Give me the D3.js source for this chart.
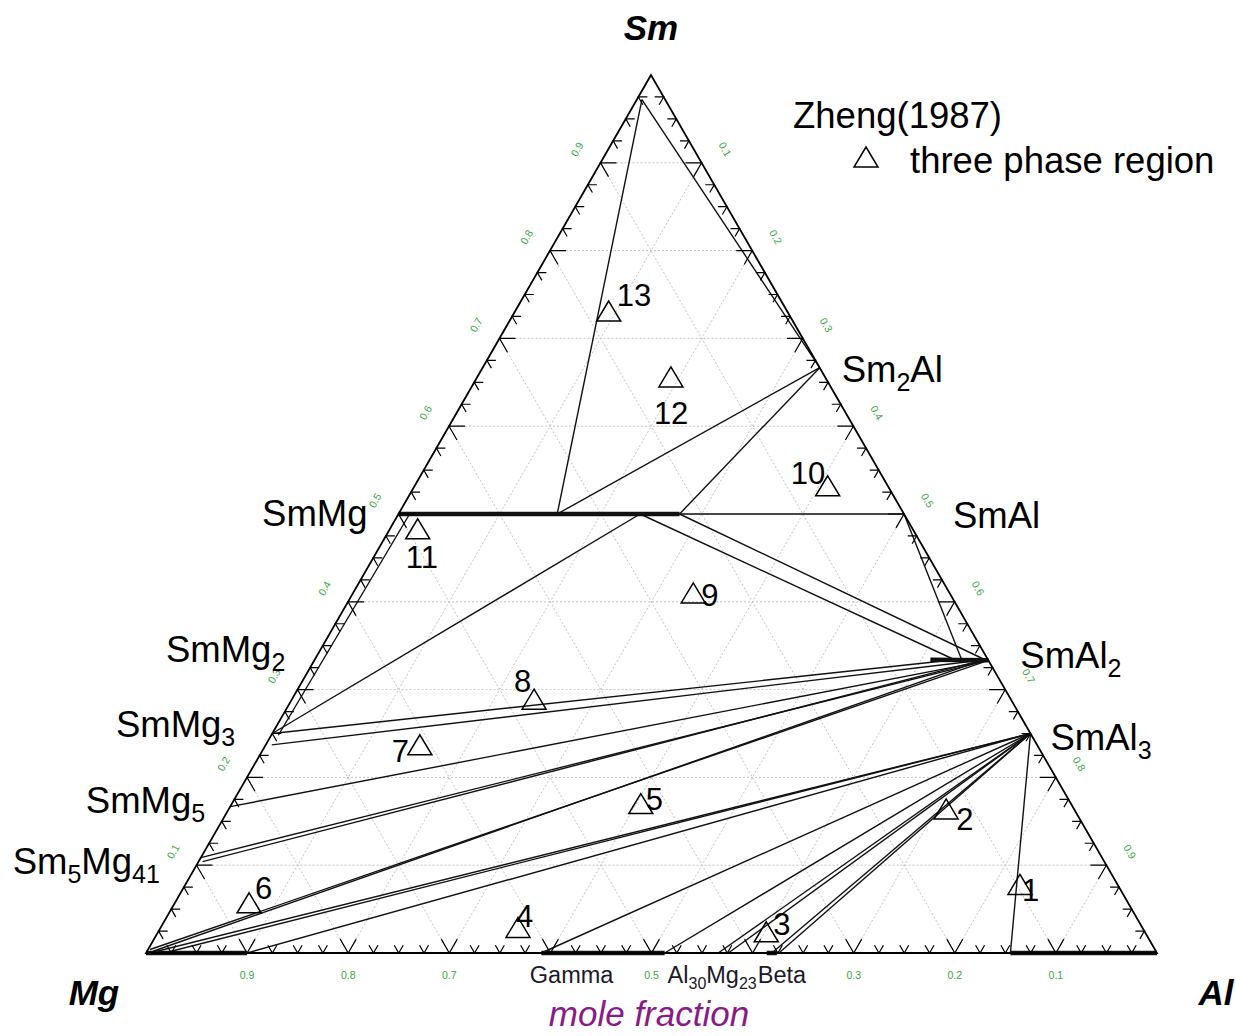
<!DOCTYPE html>
<html><head><meta charset="utf-8">
<script src="https://cdn.jsdelivr.net/npm/d3@7"></script>
<style>body{margin:0;background:#fff}svg{display:block}</style>
</head><body>
<svg id="c" width="1236" height="1036"></svg>
<script>
// ---------------- DATA ----------------
const vertexNames = ["Sm", "Mg", "Al"];
const compoundNames = ["SmMg", "SmMg2", "SmMg3", "SmMg5", "Sm5Mg41", "Sm2Al", "SmAl", "SmAl2", "SmAl3"];
const compoundSm    = [0.5, 1/3, 0.25, 1/6, 5/46, 2/3, 0.5, 1/3, 0.25];
const compoundAl    = [0,   0,   0,    0,   0,    1/3, 0.5, 2/3, 0.75];
const binaryPhaseNames = ["Gamma", "Al30Mg23", "Beta"];
const binaryPhaseAl    = [0.421, 0.560, 0.629];
const pointIds = ["1","2","3","4","5","6","7","8","9","10","11","12","13"];
const pointSm  = [0.077, 0.163, 0.023, 0.028, 0.169, 0.056, 0.236, 0.288, 0.409, 0.531, 0.482, 0.655, 0.730];
const pointAl  = [0.826, 0.710, 0.602, 0.354, 0.405, 0.074, 0.153, 0.240, 0.337, 0.409, 0.028, 0.192, 0.093];
// tie lines: [Sm1, Al1, Sm2, Al2]
const tieLines = [
  [0.972,0.005, 0.5,0.157],
  [0.972,0.005, 2/3,1/3],
  [2/3,1/3, 0.5,0.157],
  [2/3,1/3, 0.5,0.278],
  [0.5,0, 0.5,0.5],
  [0.5,0.5, 0.334,0.640],
  [0.5,0.239, 0.334,0.633],
  [0.5,0.278, 0.334,0.663],
  [0.5,0.239, 0.25,0],
  [0.5,0.011, 0.248,0.007],
  [0.25,0, 0.334,0.633],
  [0.237,0.006, 0.334,0.663],
  [1/6,0, 1/3,2/3],
  [5/46,0, 1/3,2/3],
  [0.104,0.004, 1/3,0.660],
  [0.004,0.002, 1/3,2/3],
  [0.002,0.006, 1/3,0.660],
  [0,0.004, 0.25,0.75],
  [0,0.018, 0.25,0.75],
  [0,0.1, 0.25,0.75],
  [0,0.391, 0.25,0.75],
  [0,0.513, 0.25,0.75],
  [0,0.566, 0.25,0.75],
  [0,0.576, 0.25,0.75],
  [0,0.619, 0.25,0.75],
  [0,0.626, 0.25,0.75],
  [0,0.855, 0.25,0.75]
];
const thickLines = [
  [0,0, 0,0.1],
  [0,0.391, 0,0.513],
  [0,0.855, 0,1],
  [0.5,0, 0.5,0.278],
  [0.334,0.609, 1/3,2/3],
  [0,0.614, 0,0.624]
];
const gridValues = [0.1,0.2,0.3,0.4,0.5,0.6,0.7,0.8,0.9];
const bottomTickLabels = ["0.9","0.8","0.7","","0.5","","0.3","0.2","0.1"];
const leftTickLabels   = ["0.1","0.2","0.3","0.4","0.5","0.6","0.7","0.8","0.9"];
const rightTickLabels  = ["0.1","0.2","0.3","0.4","0.5","0.6","0.7","0.8","0.9"];
const legendTitle = "Zheng(1987)";
const legendItem = "three phase region";
const axisTitle = "mole fraction";

// ---------------- LAYOUT ----------------
const ox = 146, baseY = 953, sideW = 1011, apexDX = 505, apexY = 75;
const alX = d3.scaleLinear().domain([0,1]).range([0, sideW]);
const smX = d3.scaleLinear().domain([0,1]).range([0, apexDX]);
const smY = d3.scaleLinear().domain([0,1]).range([baseY, apexY]);
const P = (sm, al) => [ox + alX(al) + smX(sm), smY(sm)];

const compoundLabelOffsets = [[-31,12,"end"],[-29,2,"end"],[-37,3,"end"],[-25,6,"end"],[-41,16,"end"],[22,14,"start"],[49,14,"start"],[32,8,"start"],[20,16,"start"]];
const pointLabelOffsets = [[2,16,"start"],[10,20,"start"],[7,2,"start"],[-2,-1,"start"],[5,5,"start"],[6,-5,"start"],[-28,16,"start"],[-20,-8,"start"],[8,12,"start"],[-37,-3,"start"],[-12,38,"start"],[-17,46,"start"],[8,-6,"start"]];

const svg = d3.select("#c");
const FONT = "'Liberation Sans', Arial, sans-serif";
const GREEN = "#36a83e";
const TXT = 36.5;

// grid
const grid = svg.append("g").attr("stroke","#c4c4c4").attr("stroke-width",1).attr("stroke-dasharray","2,2").attr("fill","none");
gridValues.forEach(v => {
  [[[v,0],[v,1-v]], [[0,v],[1-v,v]], [[0,1-v],[1-v,0]]].forEach(seg => {
    const a = P(...seg[0]), b = P(...seg[1]);
    grid.append("line").attr("x1",a[0]).attr("y1",a[1]).attr("x2",b[0]).attr("y2",b[1]);
  });
});

// tie lines
const line = d3.line();
const tg = svg.append("g").attr("stroke","#111").attr("fill","none");
tieLines.forEach(t => tg.append("path").attr("d", line([P(t[0],t[1]), P(t[2],t[3])])).attr("stroke-width",1.4));
thickLines.forEach(t => tg.append("path").attr("d", line([P(t[0],t[1]), P(t[2],t[3])])).attr("stroke-width",4.5));

// frame
const A = P(1,0), B = P(0,0), C = P(0,1);
svg.append("path").attr("d", line([A,B,C]) + "Z").attr("fill","none").attr("stroke","#000").attr("stroke-width",1.8);

// ticks
const tk = svg.append("g").attr("stroke","#000").attr("stroke-width",1.2).attr("fill","none");
const L = Math.hypot(apexDX, baseY-apexY);
const dUpRight = [apexDX/L, -(baseY-apexY)/L];         // Mg -> Sm
const dUpLeft  = [-(sideW-apexDX)/L, -(baseY-apexY)/L]; // Al -> Sm
const dDownRight = [-dUpLeft[0], -dUpLeft[1]];
const dDownLeft = [-dUpRight[0], -dUpRight[1]];
for (let i = 1; i < 40; i++) {
  const t = i/40, len = (i % 4 === 0) ? 16 : 9;
  const arms = [
    [P(0,t), dUpLeft, dUpRight],
    [P(t,0), [1,0], dDownRight],
    [P(t,1-t), [-1,0], dDownLeft]
  ];
  arms.forEach(([p,d1,d2]) => {
    tk.append("path").attr("d", line([[p[0]+d1[0]*len, p[1]+d1[1]*len], p, [p[0]+d2[0]*len, p[1]+d2[1]*len]]));
  });
}

// tick labels
const tl = svg.append("g").attr("fill",GREEN).attr("font-family",FONT).attr("font-size",10.5).attr("text-anchor","middle");
gridValues.forEach((v,i) => {
  const pb = P(0,v);
  tl.append("text").attr("x",pb[0]).attr("y",pb[1]+26).text(bottomTickLabels[i]);
  const pl = P(v,0);
  const nl = [-0.867,-0.5];
  tl.append("text").attr("transform",`translate(${pl[0]+nl[0]*27},${pl[1]+nl[1]*27}) rotate(-60)`).attr("dy","0.35em").text(leftTickLabels[i]);
  const pr = P(1-v,v);
  const nr = [0.867,-0.5];
  tl.append("text").attr("transform",`translate(${pr[0]+nr[0]*27},${pr[1]+nr[1]*27}) rotate(60)`).attr("dy","0.35em").text(rightTickLabels[i]);
});

// text helper with subscripts
function richText(g, str, x, y, size, anchor, subSize) {
  const t = g.append("text").attr("x",x).attr("y",y).attr("font-size",size).attr("text-anchor",anchor);
  let prevSub = false;
  const shift = size*0.25;
  str.split(/(\d+)/).filter(s => s.length).forEach(s => {
    const isSub = /^\d+$/.test(s);
    const dy = isSub ? (prevSub ? 0 : shift) : (prevSub ? -shift : 0);
    t.append("tspan").attr("font-size", isSub ? subSize : size).attr("dy",dy).text(s);
    prevSub = isSub;
  });
  return t;
}

// compound labels
const cl = svg.append("g").attr("font-family",FONT).attr("fill","#000");
compoundNames.forEach((n,i) => {
  const p = P(compoundSm[i], compoundAl[i]);
  const o = compoundLabelOffsets[i];
  richText(cl, n, p[0]+o[0], p[1]+o[1], TXT, o[2], 25);
});

// binary phase labels on the bottom
const bl = svg.append("g").attr("font-family",FONT).attr("fill","#1a1a2a");
binaryPhaseNames.forEach((n,i) => {
  const p = P(0, binaryPhaseAl[i]);
  richText(bl, n, p[0], p[1]+30, 23.5, "middle", 16);
});

// points
const tri = "M0,-11L12,9L-12,9Z";
const pg = svg.append("g");
pointIds.forEach((id,i) => {
  const p = P(pointSm[i], pointAl[i]);
  pg.append("path").attr("d",tri).attr("transform",`translate(${p[0]},${p[1]})`).attr("fill","none").attr("stroke","#000").attr("stroke-width",1.5);
  const o = pointLabelOffsets[i];
  pg.append("text").attr("x",p[0]+o[0]).attr("y",p[1]+o[1]).attr("font-family",FONT).attr("font-size",31).attr("text-anchor",o[2]).text(id);
});

// vertex labels
const vl = svg.append("g").attr("font-family",FONT).attr("font-weight","bold").attr("font-style","italic").attr("font-size",35);
const vp = [[A[0], A[1]-35, "middle"], [B[0]-52, B[1]+52, "middle"], [C[0]+59, C[1]+52, "middle"]];
vertexNames.forEach((n,i) => vl.append("text").attr("x",vp[i][0]).attr("y",vp[i][1]).attr("text-anchor",vp[i][2]).text(n));

// axis title
svg.append("text").attr("x",649).attr("y",1026).attr("text-anchor","middle").attr("font-family",FONT).attr("font-style","italic").attr("font-size",35).attr("fill","#8a1a8a").text(axisTitle);

// legend
const lg = svg.append("g").attr("font-family",FONT).attr("font-size",TXT);
lg.append("text").attr("x",793).attr("y",128).text(legendTitle);
lg.append("path").attr("d",tri).attr("transform","translate(866,158)").attr("fill","none").attr("stroke","#000").attr("stroke-width",1.5);
lg.append("text").attr("x",910).attr("y",173).text(legendItem);
</script>
</body></html>
